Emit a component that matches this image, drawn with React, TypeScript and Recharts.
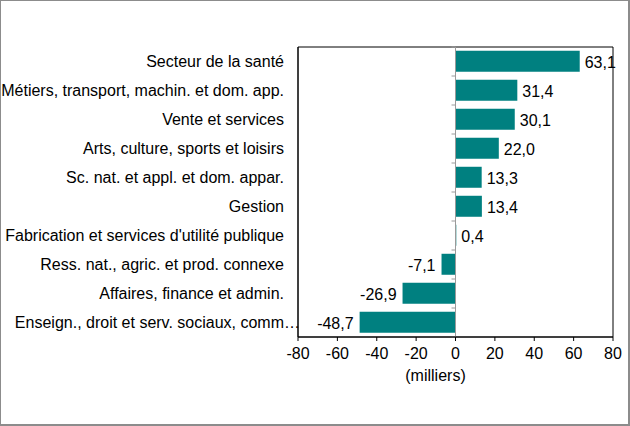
import {
  BarChart,
  Bar,
  XAxis,
  YAxis,
  LabelList,
  ReferenceLine,
  ReferenceArea,
} from "recharts";

const categories = [
  "Secteur de la santé",
  "Métiers, transport, machin. et dom. app.",
  "Vente et services",
  "Arts, culture, sports et loisirs",
  "Sc. nat. et appl. et dom. appar.",
  "Gestion",
  "Fabrication et services d'utilité publique",
  "Ress. nat., agric. et prod. connexe",
  "Affaires, finance et admin.",
  "Enseign., droit et serv. sociaux, comm…",
];

const changes = [63.1, 31.4, 30.1, 22.0, 13.3, 13.4, 0.4, -7.1, -26.9, -48.7];

const xTicks = [-80, -60, -40, -20, 0, 20, 40, 60, 80];

const FONT = "'Liberation Sans', Arial, sans-serif";
const FS = 16;
const TEAL = "#008080";

const data = categories.map((name, i) => ({ name, value: changes[i] }));

const fmt = (v: number) => v.toFixed(1).replace(".", ",");

function CategoryTick(props: any) {
  const { x, y, payload } = props;
  const label: string = payload.value;
  const cut = label.endsWith("…");
  return (
    <g>
      <text
        x={x}
        y={y}
        textAnchor="end"
        dominantBaseline="central"
        fontSize={FS}
        fontFamily={FONT}
        fill="#000"
      >
        {cut ? label.slice(0, -1) : label}
      </text>
      {cut && (
        <text
          x={x}
          y={y}
          textAnchor="start"
          dominantBaseline="central"
          fontSize={FS}
          fontFamily={FONT}
          fill="#000"
        >
          …
        </text>
      )}
    </g>
  );
}

function ValueLabel(props: any) {
  const { x, y, width, height, value } = props;
  const left = Math.min(x, x + width);
  const right = Math.max(x, x + width);
  const neg = value < 0;
  return (
    <text
      x={neg ? left - 6 : right + 5}
      y={y + height / 2 + 1}
      textAnchor={neg ? "end" : "start"}
      dominantBaseline="central"
      fontSize={FS}
      fontFamily={FONT}
      fill="#000"
    >
      {fmt(value)}
    </text>
  );
}

// zero line with small ticks at the category boundaries
function ZeroAxis(props: any) {
  const { x1, y1, y2 } = props;
  const n = categories.length;
  const step = (y2 - y1) / n;
  return (
    <g>
      <line x1={x1} y1={y1} x2={x1} y2={y2} stroke="#9a9a9a" strokeWidth={1} />
      {Array.from({ length: n + 1 }, (_, i) => (
        <line
          key={i}
          x1={x1 - 4}
          x2={x1}
          y1={y1 + i * step}
          y2={y1 + i * step}
          stroke="#9a9a9a"
          strokeWidth={1}
        />
      ))}
    </g>
  );
}

export default function App() {
  return (
    <div
      style={{
        position: "absolute",
        left: 0,
        top: 0,
        width: 630,
        height: 426,
        boxSizing: "border-box",
        border: "1px solid #8c8c8c",
        borderWidth: "1px 2px 2px 1px",
        background: "#fff",
      }}
    >
      <BarChart
        width={627}
        height={423}
        data={data}
        layout="vertical"
        margin={{ top: 46, right: 15, bottom: 32, left: 0 }}
        barCategoryGap="13%"
      >
        <XAxis
          type="number"
          domain={[-80, 80]}
          ticks={xTicks}
          interval={0}
          height={55}
          axisLine={{ stroke: "#000" }}
          tickLine={{ stroke: "#000" }}
          tickSize={4}
          tickMargin={7}
          tick={{ fontSize: FS, fontFamily: FONT, fill: "#000" }}
          label={({ viewBox }: any) => (
            <text
              x={viewBox.x + viewBox.width / 2 - 20}
              y={viewBox.y + viewBox.height - 11}
              textAnchor="middle"
              fontSize={FS}
              fontFamily={FONT}
              fill="#000"
            >
              (milliers)
            </text>
          )}
        />
        <YAxis
          type="category"
          dataKey="name"
          width={297}
          interval={0}
          axisLine={{ stroke: "#000" }}
          tickLine={false}
          tickSize={6}
          tickMargin={8}
          tick={<CategoryTick />}
        />
        <ReferenceArea
          x1={-80}
          x2={80}
          fill="none"
          stroke="#000"
          strokeWidth={1}
          ifOverflow="visible"
        />
        <Bar dataKey="value" fill={TEAL} isAnimationActive={false}>
          <LabelList dataKey="value" content={<ValueLabel />} />
        </Bar>
        <ReferenceLine x={0} shape={<ZeroAxis />} />
      </BarChart>
    </div>
  );
}
